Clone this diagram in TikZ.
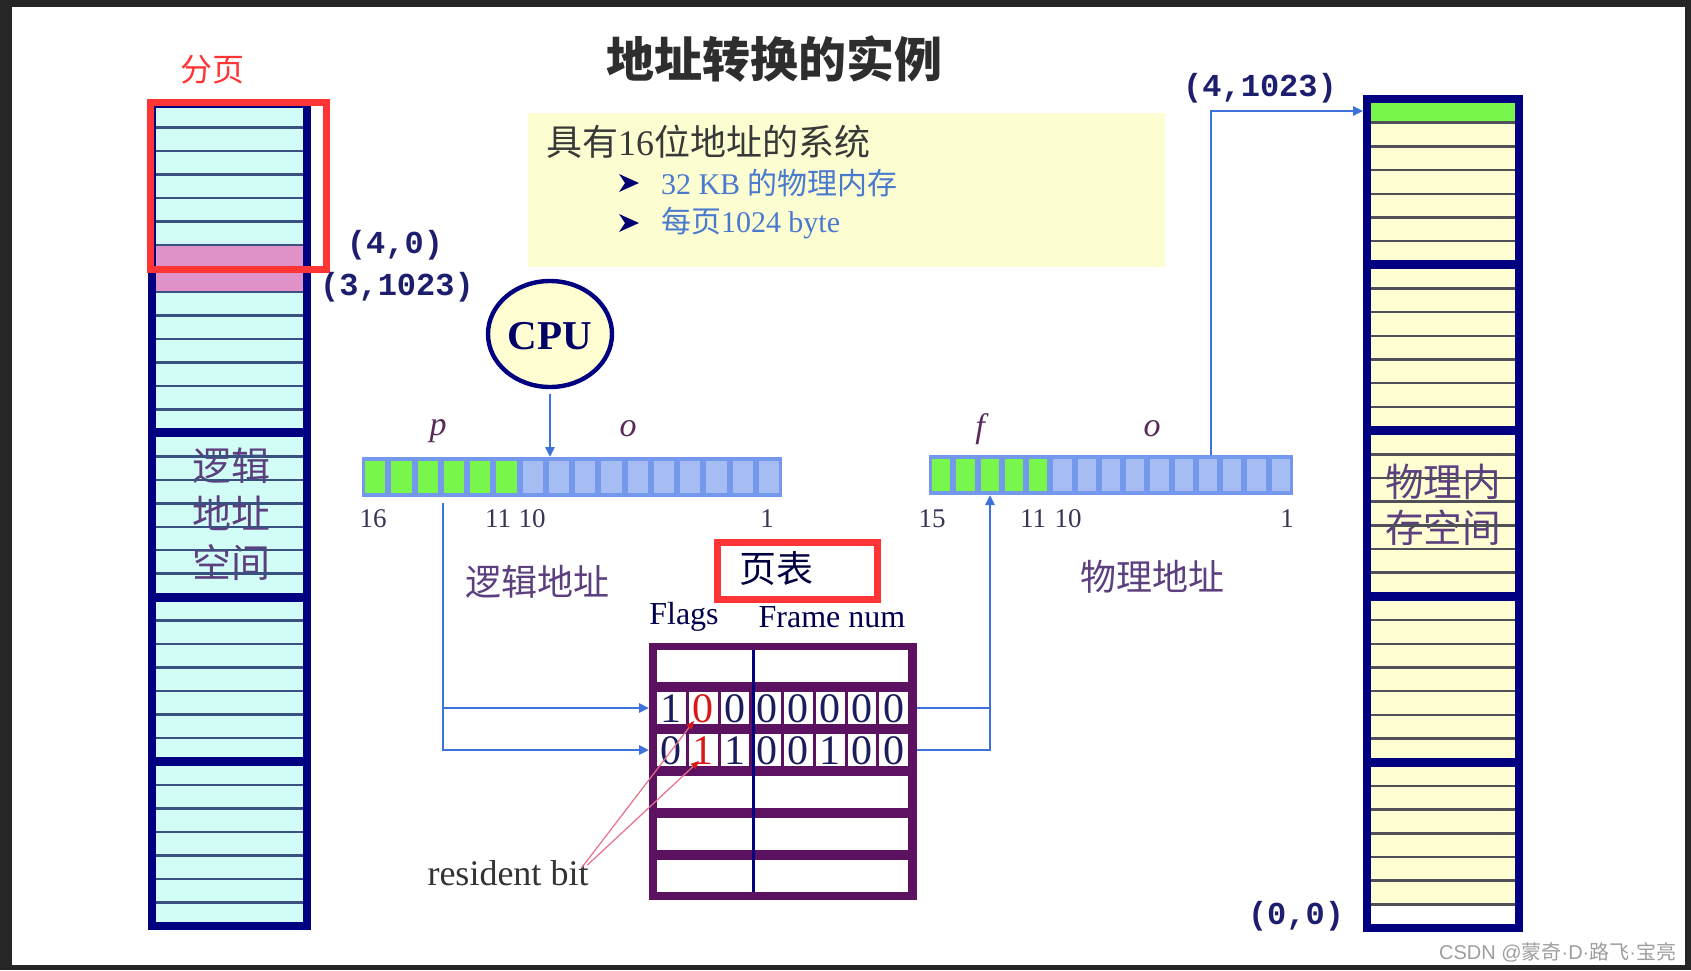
\documentclass[tikz,border=0pt]{standalone}
\usepackage{fontspec}
\setmainfont{Liberation Serif}
\newfontfamily\cjk{Noto Sans CJK SC}
\newfontfamily\mono{Liberation Mono}
\newfontfamily\lsans{Liberation Sans}
\usetikzlibrary{arrows.meta,shapes.geometric}
\newcommand\myfs[1]{\fontsize{#1}{#1}\selectfont}
\definecolor{bgdark}{HTML}{262626}
\definecolor{navy}{HTML}{000080}
\definecolor{lcyan}{HTML}{D2FCF6}
\definecolor{pinkrow}{HTML}{E092C8}
\definecolor{lyel}{HTML}{FFFED2}
\definecolor{grn}{HTML}{78F64C}
\definecolor{barblue}{HTML}{7398EC}
\definecolor{cellblue}{HTML}{A6BDF3}
\definecolor{connc}{HTML}{3D72DC}
\definecolor{tpurple}{HTML}{5C1260}
\definecolor{redbox}{HTML}{FF3535}
\definecolor{txtpurple}{HTML}{5C3F7E}
\definecolor{monoblue}{HTML}{1E1E6E}
\definecolor{infoblue}{HTML}{4A7AD0}
\definecolor{boxyel}{HTML}{FDFDD2}
\definecolor{lrowc}{HTML}{3A5080}
\definecolor{prowc}{HTML}{505058}
\definecolor{numc}{HTML}{3A3456}
\definecolor{varc}{HTML}{5A2A5A}
\definecolor{digc}{HTML}{1C1C5C}
\definecolor{resl}{HTML}{E8708A}
\definecolor{resr}{HTML}{D81818}
\tikzset{
  conn/.style={draw=connc, line width=1.4pt},
  connarrow/.style={conn, -{Triangle[length=5pt,width=4.5pt]}},
  resarrow/.style={draw=resl, line width=0.6pt, -{Triangle[length=4pt,width=3.5pt,color=resr]}},
  coord/.style={font=\mono\bfseries\myfs{16}, text=monoblue},
  numlab/.style={font=\myfs{13.5}, text=numc},
  varlab/.style={font=\itshape\myfs{17}, text=varc},
  digit/.style={font=\myfs{21}},
  cjklab/.style={font=\cjk\myfs{18}, text=txtpurple},
  rowbox/.style={minimum width=134pt, minimum height=16pt},
}
\begin{document}
\begin{tikzpicture}[x=0.5pt,y=-0.5pt, every node/.style={inner sep=0pt, outer sep=0pt}]
\useasboundingbox (0,0) rectangle (1691,970);
\fill[bgdark] (0,0) rectangle (1691,970);
\fill[white] (12,7) rectangle (1685,965);

% title
\node[font=\cjk\bfseries\myfs{24}, text=black!82] (title) at (774,59) {地址转换的实例};
\node[font=\cjk\myfs{16}, text=redbox] (fenye) at (212,70) {分页};

% ---------- logical column ----------
\fill[lcyan] (152,104) rectangle (307,926);
\fill[pinkrow] (152,244.9) rectangle (307,291.9);
\node[font=\cjk\fontsize{19.5}{24.25}\selectfont, text=txtpurple, align=center] (lspace) at (231,514) {逻辑\\地址\\空间};
\foreach \k in {1,...,34} \draw[lrowc, line width=1.25pt] (152,{104+\k*23.486}) -- (307,{104+\k*23.486});
\foreach \k in {2,3,4} \draw[navy, line width=4.5pt] (152,{104+\k*164.4}) -- (307,{104+\k*164.4});
\draw[navy, line width=4pt] (152,104) rectangle (307,926);
\draw[redbox, line width=3.6pt] (150.5,102.5) rectangle (326.5,269.5);
\node[coord] (c40) at (395,245) {(4,0)};
\node[coord] (c31023) at (397,287) {(3,1023)};

% ---------- physical column ----------
\fill[lyel] (1367,99) rectangle (1519,928);
\fill[grn] (1367,99) rectangle (1519,122.7);
\fill[white] (1367,904.3) rectangle (1519,928);
\node[font=\cjk\fontsize{19.3}{23}\selectfont, text=txtpurple, align=center] (pspace) at (1443,505) {物理内\\存空间};
\foreach \k in {1,...,34} \draw[prowc, line width=1.25pt] (1367,{99+\k*23.686}) -- (1519,{99+\k*23.686});
\foreach \k in {1,2,3,4} \draw[navy, line width=4.5pt] (1367,{99+\k*165.8}) -- (1519,{99+\k*165.8});
\draw[navy, line width=4pt] (1367,99) rectangle (1519,928);
\node[coord] (c41023) at (1260,88) {(4,1023)};
\node[coord] (c00) at (1296,916) {(0,0)};
\coordinate (ptop) at (1363,111);

% ---------- info box ----------
\node[fill=boxyel, minimum width=318.5pt, minimum height=77pt] (info) at (846.5,190) {};
\node[anchor=west, font=\myfs{18}, text=black!78] (sys) at (546,142) {{\cjk 具有}16{\cjk 位地址的系统}};
\node[anchor=west, font=\myfs{15}, text=infoblue] (mem) at (661,183) {32 KB {\cjk 的物理内存}};
\node[anchor=west, font=\myfs{15}, text=infoblue] (pg) at (661,223) {{\cjk 每页}1024 byte};
\foreach \yy in {183,223} \fill[navy!90!black] (639,\yy) -- (619,{\yy-9}) -- (625,\yy) -- (619,{\yy+9}) -- cycle;

% ---------- CPU ----------
\node[ellipse, draw=navy, line width=2.2pt, fill=lyel, minimum width=62pt, minimum height=53pt] (cpu) at (550,334) {};
\node[font=\bfseries\myfs{20.5}, text=navy!80!black] (cputxt) at (550,336) {CPU};

% ---------- logical address bar ----------
\node[fill=barblue, minimum width=210pt, minimum height=20pt] (lbar) at (572,477) {};
\foreach \i in {0,...,5} \fill[grn] ({362+\i*26.25+3},461) rectangle ({362+(\i+1)*26.25-3},493);
\foreach \i in {6,...,15} \fill[cellblue] ({362+\i*26.25+3},461) rectangle ({362+(\i+1)*26.25-3},493);
\node[varlab] (lp) at (438,431) {p};
\node[varlab] (lo) at (628,429) {o};
\node[numlab] (n16) at (373,519) {16};
\node[numlab] (n11) at (498,519) {11};
\node[numlab] (n10) at (532,519) {10};
\node[numlab] (n1) at (767,519) {1};
\node[cjklab] (laddr) at (537,582) {逻辑地址};

% ---------- physical address bar ----------
\node[fill=barblue, minimum width=182pt, minimum height=20pt] (pbar) at (1111,475) {};
\foreach \i in {0,...,4} \fill[grn] ({929+\i*24.267+3},459) rectangle ({929+(\i+1)*24.267-3},491);
\foreach \i in {5,...,14} \fill[cellblue] ({929+\i*24.267+3},459) rectangle ({929+(\i+1)*24.267-3},491);
\node[varlab] (pf) at (980,429) {f};
\node[varlab] (po) at (1152,429) {o};
\node[numlab] (m15) at (932,519) {15};
\node[numlab] (m11) at (1033,519) {11};
\node[numlab] (m10) at (1068,519) {10};
\node[numlab] (m1) at (1287,519) {1};
\node[cjklab] (paddr) at (1152,577) {物理地址};

% ---------- page table ----------
\node[draw=redbox, line width=3.3pt, minimum width=80pt, minimum height=28.5pt] (ptbox) at (797.5,571) {};
\node[font=\cjk\myfs{18.5}, text=black!75!blue] (pttxt) at (776,568) {页表};
\node[font=\myfs{16}, text=navy!60!black] (flags) at (684,617) {Flags};
\node[font=\myfs{16}, text=navy!60!black] (fnum) at (832,617) {Frame num};
\fill[tpurple] (649,643) rectangle (917,900);
\foreach \k in {0,3,4,5} \fill[white] (657,{650+42*\k}) rectangle (908,{682+42*\k});
\foreach \k in {1,2} \foreach \i in {0,...,7} \fill[white] ({657+\i*31.75},{650+42*\k}) rectangle ({657+\i*31.75+28.75},{682+42*\k});
\draw[navy, line width=1.5pt] (753.7,650) -- (753.7,892);
\foreach \d/\c [count=\i from 0] in {1/digc,0/resr,0/digc,0/digc,0/digc,0/digc,0/digc,0/digc}
  \node[digit, text=\c] (da\i) at ({671.4+\i*31.75},709) {\d};
\foreach \d/\c [count=\i from 0] in {0/digc,1/resr,1/digc,0/digc,0/digc,1/digc,0/digc,0/digc}
  \node[digit, text=\c] (db\i) at ({671.4+\i*31.75},751) {\d};
\node[rowbox] (r1) at (783,708) {};
\node[rowbox] (r2) at (783,750) {};
\node[font=\myfs{18}, text=black!80] (rb) at (508,873) {resident bit};
\coordinate (rbA) at (694,721);
\coordinate (rbB) at (699,761);
\draw[resarrow] ([shift={(-7,-5)}]rb.east) -- (rbA);
\draw[resarrow] ([shift={(-1,-8)}]rb.east) -- (rbB);

% ---------- connectors ----------
\coordinate (lpv) at (443,503);
\coordinate (pfv) at (990,495);
\coordinate (pov) at (1211,455);
\draw[connarrow, shorten <=3.5pt] (cpu.south) -- (cpu.south |- lbar.north);
\draw[connarrow] (lpv) |- (r1.west);
\draw[connarrow] (lpv) |- (r2.west);
\draw[conn] (r1.east) -- (r1.east -| pfv);
\draw[connarrow] (r2.east) -| (pfv);
\draw[connarrow] (pov) |- (ptop);

% watermark
\node[anchor=east, font=\myfs{10}, text=black!38] (wm) at (1676,952) {{\lsans CSDN @}{\cjk 蒙奇}{\lsans ·D·}{\cjk 路飞}{\lsans ·}{\cjk 宝亮}};
\end{tikzpicture}
\end{document}
